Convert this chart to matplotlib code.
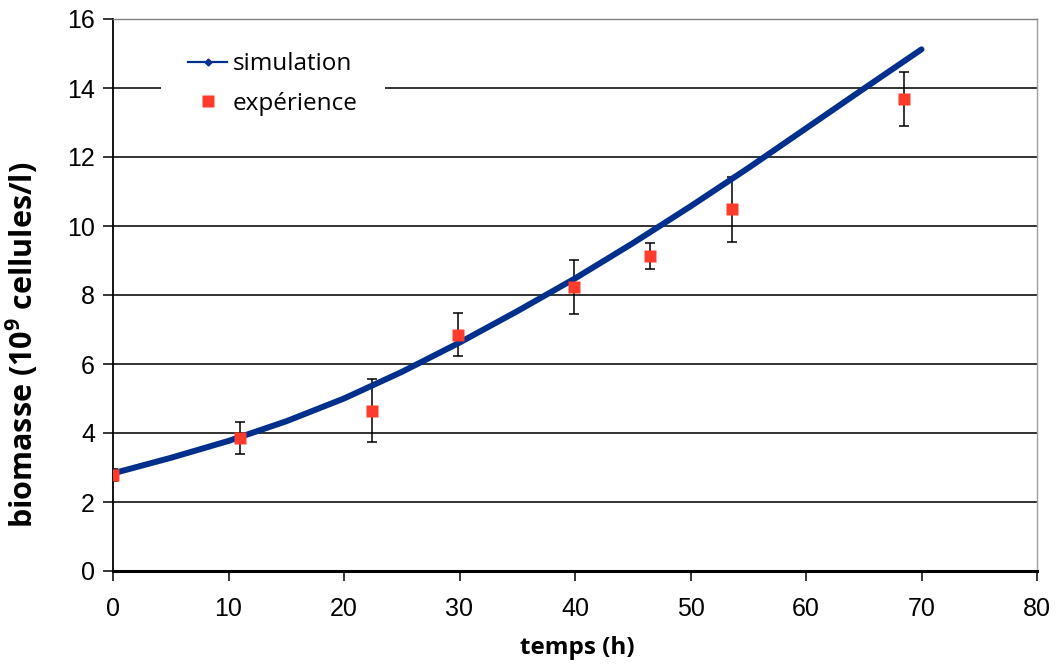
import matplotlib
matplotlib.use("Agg")
import matplotlib.pyplot as plt
from matplotlib.lines import Line2D

plt.rcParams['mathtext.fontset'] = 'custom'
plt.rcParams['mathtext.rm'] = 'Open Sans'
plt.rcParams['mathtext.bf'] = 'Open Sans:bold'

# simulation curve
sim_t = [0, 5, 10, 15, 20, 25, 30, 35, 40, 45, 50, 55, 60, 65, 70]
sim_x = [2.83, 3.28, 3.77, 4.34, 5.00, 5.77, 6.62, 7.53, 8.48, 9.50, 10.57, 11.68, 12.83, 13.98, 15.12]

# experimental points
exp_t = [0, 11, 22.4, 29.9, 39.9, 46.5, 53.6, 68.5]
exp_x = [2.78, 3.85, 4.65, 6.85, 8.24, 9.12, 10.48, 13.68]
exp_err = [0.17, 0.47, 0.91, 0.63, 0.78, 0.38, 0.95, 0.78]

xticks = [0, 10, 20, 30, 40, 50, 60, 70, 80]
yticks = [0, 2, 4, 6, 8, 10, 12, 14, 16]

fig = plt.figure(figsize=(10.6, 6.68), dpi=100)
ax = fig.add_axes([113/1060, 1-571/668, (1037-113)/1060, (571-19)/668])

ax.set_xlim(0, 80)
ax.set_ylim(0, 16)
ax.set_yticks(yticks)
ax.set_xticks(xticks)
ax.yaxis.grid(True, color='#111111', lw=1.2)
ax.set_axisbelow(True)

ax.plot(sim_t, sim_x, color='#00308C', lw=4.3, solid_capstyle='round',
        solid_joinstyle='round', zorder=3)
ax.errorbar(exp_t, exp_x, yerr=exp_err, fmt='none', ecolor='black', elinewidth=1.1,
            capsize=3.8, capthick=1.1, zorder=2)
ax.plot(exp_t, exp_x, 's', color='#FF3B2B', ms=9, mec='none', zorder=4)

for s in ['left', 'bottom']:
    ax.spines[s].set_color('black')
ax.spines['left'].set_linewidth(1.3)
ax.spines['bottom'].set_linewidth(2.2)
ax.spines['right'].set_color('#A0A0A0')
ax.spines['right'].set_linewidth(1.0)
ax.spines['top'].set_color('#808080')
ax.spines['top'].set_linewidth(1.0)

ax.tick_params(axis='both', direction='out', length=7, width=1.1, color='black',
               labelsize=18, pad=6)
ax.tick_params(axis='x', pad=12)
for lab in ax.get_xticklabels() + ax.get_yticklabels():
    lab.set_family('Liberation Sans')

ax.set_xlabel('temps (h)', family='Open Sans', fontweight='bold', fontsize=17.5)
ax.xaxis.set_label_coords(0.503, -0.118)
ax.set_ylabel('biomasse (10$^{\\mathbf{9}}$ cellules/l)', family='Open Sans', fontweight='bold',
              fontsize=22)
ax.yaxis.set_label_coords(-0.079, 0.41)

handles = [Line2D([], [], color='#00308C', lw=1.6, marker='D', ms=3.5),
           Line2D([], [], ls='none', marker='s', color='#FF3B2B', ms=9, mec='none')]
leg = ax.legend(handles, ['simulation', 'expérience'], loc='upper left',
                bbox_to_anchor=(0.0523, 0.988), frameon=True, framealpha=1, edgecolor='white',
                fancybox=False, prop={'family': 'Open Sans', 'size': 17.5},
                handlelength=1.6, handletextpad=0.25, borderpad=1.1, labelspacing=0.64,
                borderaxespad=0)
leg.get_frame().set_linewidth(0)
leg.set_zorder(5)

fig.savefig('out.png', dpi=100)
